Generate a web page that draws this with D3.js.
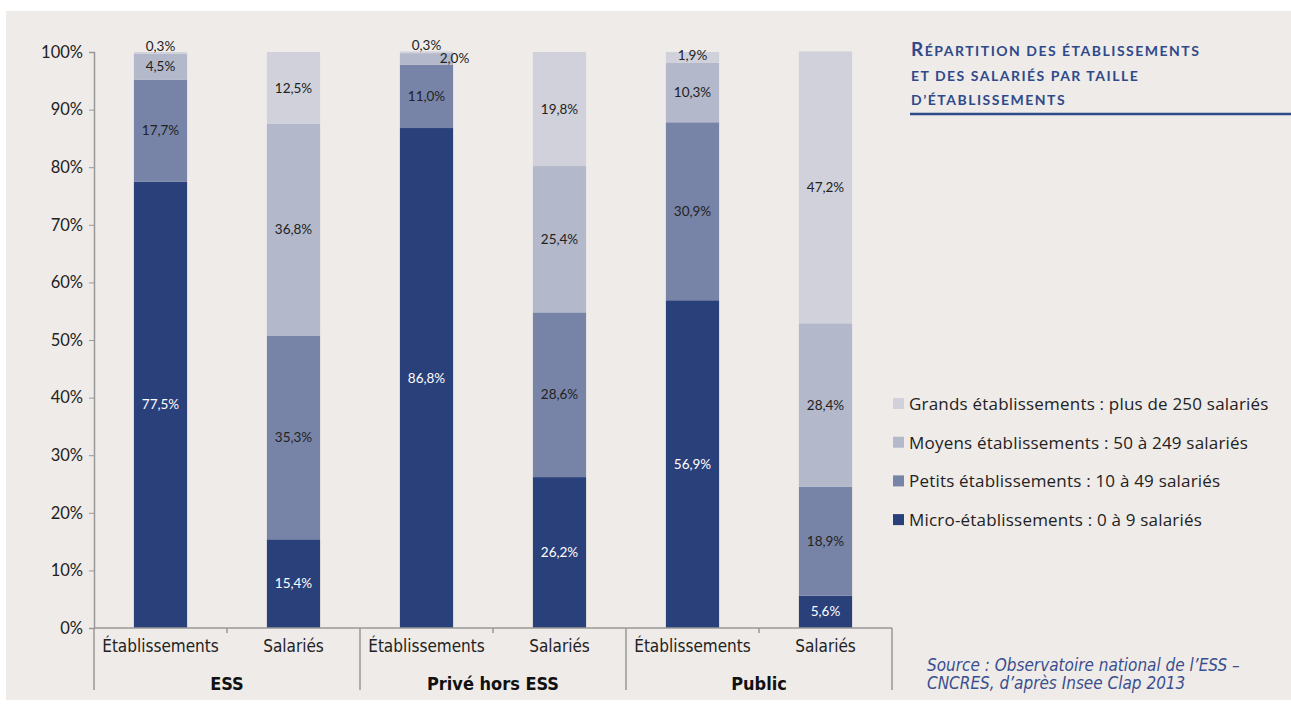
<!DOCTYPE html>
<html>
<head>
<meta charset="utf-8">
<script src="https://cdn.jsdelivr.net/npm/d3@7"></script>
<style>
  body { margin: 0; background: #fff; }
  svg { display: block; }
  .narrow { font-family: "Liberation Sans Narrow", "DejaVu Sans Condensed", "Roboto", sans-serif; }
</style>
</head>
<body>
<div id="chart"></div>
<script>
// Data
const groups = ['ESS', 'Privé hors ESS', 'Public'];
const measures = ['Établissements', 'Salariés'];
const sizeClasses = [
    'Micro-établissements : 0 à 9 salariés',
    'Petits établissements : 10 à 49 salariés',
    'Moyens établissements : 50 à 249 salariés',
    'Grands établissements : plus de 250 salariés'
];
// one entry per bar, values bottom -> top (micro, petits, moyens, grands)
const microValues  = [77.5, 15.4, 86.8, 26.2, 56.9, 5.6];
const petitsValues = [17.7, 35.3, 11.0, 28.6, 30.9, 18.9];
const moyensValues = [4.5, 36.8, 2.0, 25.4, 10.3, 28.4];
const grandsValues = [0.3, 12.5, 0.3, 19.8, 1.9, 47.2];
const yTicks = [0, 10, 20, 30, 40, 50, 60, 70, 80, 90, 100];

const colors = ['#2a407b', '#7784a7', '#b3b8cb', '#d0d1db'];

const width = 1291, height = 711;
const margin = { left: 94, right: 399, top: 52, bottom: 83 };

const svg = d3.select('#chart').append('svg')
    .attr('width', width)
    .attr('height', height);

// background panel
svg.append('rect')
    .attr('x', 6).attr('y', 11)
    .attr('width', width - 6).attr('height', 689)
    .attr('fill', '#efebe8');

const bars = [];
groups.forEach((g, gi) => measures.forEach((m, mi) => {
    const i = gi * 2 + mi;
    bars.push({ key: g + '|' + m, group: g, measure: m,
        values: [microValues[i], petitsValues[i], moyensValues[i], grandsValues[i]] });
}));

const x = d3.scaleBand()
    .domain(bars.map(d => d.key))
    .range([margin.left, width - margin.right])
    .paddingInner(0.6)
    .paddingOuter(0.3);

const y = d3.scaleLinear()
    .domain([0, 100])
    .range([height - margin.bottom, margin.top]);

const step = x.step();
const plotLeft = margin.left, plotRight = width - margin.right;

// y axis
const yAxis = svg.append('g')
    .attr('transform', `translate(${margin.left},0)`)
    .call(d3.axisLeft(y).tickValues(yTicks).tickSize(5).tickPadding(6).tickFormat(d => d + '%'));
yAxis.select('.domain').attr('stroke', '#999').attr('stroke-width', 1.5);
yAxis.selectAll('.tick line').attr('stroke', '#999');
yAxis.selectAll('text')
    .attr('font-family', 'Lato, "Open Sans", sans-serif')
    .attr('font-size', 16.5).attr('fill', '#222');

// segments
const segs = [];
bars.forEach(b => {
    let acc = 0;
    b.values.forEach((v, k) => {
        segs.push({ bar: b, k, v, y0: acc, y1: acc + v,
            next: b.values[k + 1] });
        acc += v;
    });
});

svg.append('g').selectAll('rect')
    .data(segs)
    .join('rect')
    .attr('x', d => x(d.bar.key))
    .attr('width', x.bandwidth())
    .attr('y', d => y(d.y1))
    .attr('height', d => y(d.y0) - y(d.y1))
    .attr('fill', d => colors[d.k]);

// value labels
const fmt = v => v.toFixed(1).replace('.', ',') + '%';
svg.append('g').selectAll('text')
    .data(segs)
    .join('text')
    .attr('font-family', 'Lato, "Open Sans", sans-serif')
    .attr('font-size', 13.5)
    .attr('fill', d => d.k === 0 ? '#fff' : '#222')
    .attr('text-anchor', 'middle')
    .attr('x', d => {
        const cx = x(d.bar.key) + x.bandwidth() / 2;
        if (d.v >= 1 && d.v <= 2.5 && d.next !== undefined && d.next < 1) return cx + 28;
        return cx;
    })
    .attr('y', d => {
        if (d.v < 1) return y(d.y1) - 1;
        const mid = (y(d.y0) + y(d.y1)) / 2 + 4.5;
        if (d.v <= 2.5 && d.next !== undefined && d.next < 1) return mid;
        if (d.v < 3) return mid - 2;
        return mid;
    })
    .text(d => fmt(d.v));

// bottom axis (multi-level)
const axisColor = '#999';
const base = y(0);
const axisG = svg.append('g').attr('stroke', axisColor).attr('stroke-width', 1.5);
axisG.append('line')
    .attr('x1', plotLeft).attr('x2', plotRight)
    .attr('y1', base).attr('y2', base);
groups.forEach((g, gi) => {
    const gx = plotLeft + gi * 2 * step;
    axisG.append('line').attr('x1', gx).attr('x2', gx).attr('y1', base).attr('y2', base + 62);
    axisG.append('line').attr('x1', gx + step).attr('x2', gx + step).attr('y1', base).attr('y2', base + 5);
});
axisG.append('line').attr('x1', plotRight).attr('x2', plotRight).attr('y1', base).attr('y2', base + 62);

svg.append('g').selectAll('text')
    .data(bars)
    .join('text')
    .attr('class', 'narrow')
    .attr('x', d => x(d.key) + x.bandwidth() / 2)
    .attr('y', base + 24)
    .attr('text-anchor', 'middle')
    .attr('font-size', 17)
    .attr('fill', '#222')
    .text(d => d.measure);

svg.append('g').selectAll('text')
    .data(groups)
    .join('text')
    .attr('class', 'narrow')
    .attr('x', (d, i) => plotLeft + (i * 2 + 1) * step)
    .attr('y', base + 62)
    .attr('text-anchor', 'middle')
    .attr('font-size', 18)
    .attr('font-weight', 'bold')
    .attr('fill', '#111')
    .text(d => d);

// title
const titleColor = '#2f4a8b';
const titleLines = ['ÉPARTITION DES ÉTABLISSEMENTS', 'ET DES SALARIÉS PAR TAILLE', 'D\u2019ÉTABLISSEMENTS'];
titleLines.forEach((t, i) => {
    const txt = svg.append('text')
        .attr('x', 911).attr('y', 56 + i * 24.5)
        .attr('font-family', 'Lato, "Open Sans", sans-serif')
        .attr('font-weight', 'bold')
        .attr('fill', titleColor)
        .attr('font-size', 14)
        .attr('letter-spacing', 1.5);
    if (i === 0) txt.append('tspan').attr('font-size', 19).text('R');
    txt.append('tspan').text(t);
});
svg.append('line')
    .attr('x1', 910).attr('x2', 1291)
    .attr('y1', 114).attr('y2', 114)
    .attr('stroke', titleColor).attr('stroke-width', 2.5);

// legend (top to bottom: grands ... micro)
const legendOrder = [3, 2, 1, 0];
const legend = svg.append('g').selectAll('g')
    .data(legendOrder)
    .join('g')
    .attr('transform', (d, i) => `translate(893,${404 + i * 38.7})`);
legend.append('rect')
    .attr('x', 0).attr('y', -6)
    .attr('width', 11).attr('height', 11)
    .attr('fill', d => colors[d]);
legend.append('text')
    .attr('x', 16).attr('y', 6)
    .attr('font-family', '"Open Sans", Lato, sans-serif')
    .attr('font-size', 17)
    .attr('letter-spacing', 0.2)
    .attr('fill', '#222')
    .text(d => sizeClasses[d]);

// source
const src = svg.append('text')
    .attr('class', 'narrow')
    .attr('font-style', 'italic')
    .attr('font-size', 17)
    .attr('fill', '#3a4f8f');
src.append('tspan').attr('x', 927).attr('y', 671).text('Source : Observatoire national de l\u2019ESS \u2013');
src.append('tspan').attr('x', 927).attr('y', 689).text('CNCRES, d\u2019après Insee Clap 2013');
</script>
</body>
</html>
